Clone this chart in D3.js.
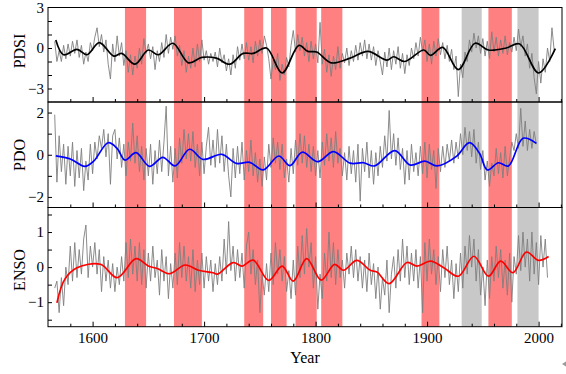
<!DOCTYPE html>
<html><head><meta charset="utf-8">
<script src="https://cdn.jsdelivr.net/npm/d3@7"></script>
<style>body{margin:0;background:#fff}svg{display:block}text{font-family:"Liberation Serif","Times New Roman",serif;fill:#000}</style>
</head><body><svg id="c" width="566" height="374"></svg>
<script>
// ---- data ----
const panelNames = ["PDSI", "PDO", "ENSO"];
const bandStart = [1629, 1673, 1736, 1760, 1782, 1805, 1895, 1931, 1955, 1981];
const bandEnd   = [1648, 1698, 1753, 1774, 1801, 1824, 1911, 1949, 1976, 2000];
const bandKind  = ["r","r","r","r","r","r","r","g","r","g"];
const xTickLabels = [1600, 1700, 1800, 1900, 2000];
const pdsiTicks = [3, 0, -3], pdoTicks = [2, 0, -2], ensoTicks = [1, 0, -1];

const pdsiStart = 1566, pdoStart = 1566, ensoStart = 1566, rawStep = 2;
const pdsiRaw = [0.5,-1.0,-0.2,-1.0,0.2,-0.8,0.3,-0.6,0.5,-0.4,0.6,-0.7,0.2,-1.2,-0.3,-1.0,0.4,-0.2,0.8,1.5,
0.1,1.0,-0.3,0.6,-1.2,-2.3,0.3,-1.0,0.9,-0.6,0.4,-1.3,-0.2,-1.8,-0.5,-2.0,-0.6,-1.5,0.0,-1.2,
0.7,-0.4,0.3,-0.8,0.1,-1.6,-0.2,-1.0,0.4,-0.7,1.0,-0.4,0.8,-0.1,0.9,-0.6,0.2,-1.3,-0.2,-1.8,
-0.6,-1.5,0.0,-1.4,0.3,-1.0,0.6,-0.9,-0.2,-1.2,-0.4,-1.0,-0.3,-1.4,0.0,-1.1,-0.5,-1.7,-0.8,-2.0,
-0.5,-1.5,0.1,-0.9,0.3,-0.8,0.4,-0.9,0.1,-1.1,0.5,-0.6,0.6,-0.4,0.9,0.2,-0.8,-2.3,-0.9,-1.6,
-0.4,-2.4,-1.2,-2.0,-0.7,-1.4,0.2,1.3,-0.3,1.0,-0.2,0.8,-0.6,0.4,-1.0,0.5,-0.8,0.3,-1.1,1.9,
-1.2,-0.1,-1.8,-0.5,-2.1,-0.6,-1.6,0.1,-1.5,-0.4,-1.1,0.0,-1.3,-0.2,-1.0,0.2,-0.9,0.4,-0.6,0.6,
-0.8,0.3,-0.9,0.1,-1.3,-0.2,-1.0,-2.0,-0.3,-1.4,0.0,-1.6,-0.2,-1.2,0.1,-1.5,-0.4,-1.9,-0.5,-1.3,
0.0,-0.8,0.4,-0.6,0.8,-0.3,0.6,-1.0,0.3,-1.2,0.5,-0.6,0.7,-0.5,0.4,-0.8,0.2,-1.0,-0.1,-1.6,
-0.6,-3.6,-1.2,-2.2,-0.3,-1.0,0.6,-0.3,1.1,0.0,0.9,-0.4,0.7,-0.6,0.5,-0.8,1.2,-0.3,0.8,-0.6,
0.6,-0.4,0.9,-0.5,0.4,-0.3,0.8,-0.2,1.4,0.1,0.9,-0.6,0.3,-1.5,-0.4,-2.2,-3.4,-1.0,-2.6,-0.8,
-1.8,0.0,-1.0,1.5,-0.2];
const pdsiSmoothYears = [1567,1574,1586,1595,1606,1619,1626,1638,1650,1659,1672,1686,1698,1711,1723,1735,1744,1756,1770,1785,1793,1801,1814,1831,1847,1864,1870,1880,1897,1903,1914,1928,1943,1955,1971,1983,2000,2015];
const pdsiSmooth = [0.6,-0.5,-0.1,-0.5,0.4,-0.6,-0.4,-1.2,-0.15,-0.5,0.35,-1.1,-0.7,-0.75,-1.2,-0.4,-0.4,0.0,-1.85,0.2,-0.25,-0.3,-1.1,-0.75,-0.25,-0.9,-0.65,-1.0,-0.15,-0.55,0.05,-1.6,0.35,-0.15,0.0,0.3,-1.85,-0.05];

const pdoRaw = [1.9,-1.3,0.9,-0.8,0.5,-1.4,0.4,-1.0,0.6,-1.5,0.2,-1.1,0.3,-1.7,-0.3,-1.2,0.5,-0.9,0.6,-0.2,
0.9,0.3,1.2,-0.1,1.0,-1.4,0.9,1.2,-0.2,0.8,-0.6,0.5,-1.0,0.6,-0.3,1.5,-0.4,0.9,-0.8,0.4,
-1.2,0.3,-1.0,0.5,-1.4,0.2,-0.9,0.7,-0.8,0.6,2.3,-1.0,0.4,-1.3,0.3,-1.1,0.8,-0.4,1.2,-0.2,
1.0,-0.3,1.1,-0.6,0.5,-1.0,0.6,-0.9,0.4,1.3,-0.5,0.7,-0.6,1.2,-0.4,0.9,-0.8,0.5,-1.0,-2.0,
0.3,-1.1,0.4,-0.9,0.6,-1.2,0.2,-0.8,0.7,-1.0,0.1,-1.3,-0.2,-1.5,-0.1,-1.2,0.5,-0.6,0.8,-0.4,
0.6,-0.7,0.5,-1.1,-0.2,-1.3,0.3,-0.9,0.7,-0.5,1.0,-0.4,0.9,-0.6,0.5,-0.8,0.4,-1.0,0.2,-1.1,
0.6,-0.5,1.0,-0.3,0.8,-0.6,1.1,-0.4,0.3,-1.0,0.1,-1.2,0.4,-0.9,0.2,-1.3,0.5,-2.2,0.3,-0.8,
0.6,-1.1,0.2,-1.4,0.1,-1.0,0.4,-0.6,0.9,-0.3,2.1,-0.2,1.0,-0.5,0.8,-0.7,0.3,-1.4,0.2,-1.2,
0.5,-0.8,0.1,-1.0,0.4,-0.9,0.6,-1.1,0.5,-0.7,0.2,-1.6,0.3,-0.8,0.4,-0.6,0.5,-0.3,0.7,-0.4,
0.6,-0.2,1.0,0.0,1.3,0.2,1.1,-0.1,1.2,-0.4,0.6,-0.7,0.2,-1.2,-0.3,-1.5,-0.4,-1.0,0.3,-0.9,
0.1,-1.1,0.4,-1.0,-0.2,0.6,0.2,1.0,0.3,2.2,0.4,1.6,0.2,1.2,0.3,1.1,0.5];
const pdoSmoothYears = [1567,1580,1593,1601,1614,1622,1629,1639,1651,1663,1674,1687,1699,1716,1729,1741,1753,1767,1777,1788,1802,1816,1831,1843,1853,1871,1885,1898,1909,1926,1938,1947,1954,1964,1973,1986,1998];
const pdoSmooth = [-0.05,-0.2,-0.55,-0.3,0.57,0.3,-0.25,0.1,-0.55,-0.12,-0.53,0.26,-0.22,0.02,-0.41,-0.36,-0.72,-0.06,-0.52,0.12,-0.33,0.15,-0.4,-0.38,-0.53,0.2,-0.49,-0.3,-0.53,-0.09,0.57,0.07,-0.72,-0.38,-0.53,0.78,0.54];

const ensoRaw = [-0.6,-0.4,-1.3,-0.3,-1.1,0.0,-0.5,0.6,-0.4,0.7,-0.3,0.5,-0.2,0.8,1.2,-0.3,0.6,0.0,0.7,-0.2,
0.5,-0.7,0.3,-0.4,0.2,-0.6,0.1,-0.7,0.0,-0.5,0.3,-0.4,0.7,-0.3,0.8,-0.2,0.6,-0.4,0.7,-0.5,
0.5,-0.6,0.4,-0.4,0.6,-0.3,0.2,-0.8,0.5,-0.4,0.3,-0.9,0.1,-0.6,0.4,-0.5,0.7,-0.3,0.6,-0.4,
0.3,-0.6,0.5,-0.7,0.2,-0.5,0.4,-0.6,0.3,-0.4,0.2,-0.7,0.1,-0.5,0.3,-0.4,0.8,-0.2,1.3,-0.1,
0.6,-0.4,0.5,-0.3,0.4,-0.6,0.6,1.0,-0.2,0.5,-0.5,0.2,-1.3,-0.2,-0.8,0.1,-0.7,0.4,-0.5,0.7,
-0.2,0.5,-0.4,0.3,-0.7,-0.1,-0.9,0.2,-0.8,0.6,-0.3,0.9,-0.2,1.1,0.0,0.7,-0.6,0.3,-1.2,-0.2,
-0.9,0.4,-0.4,1.0,-0.3,0.7,-0.5,0.5,-0.3,0.2,-0.6,0.4,-0.2,0.6,-0.3,0.5,-0.4,0.3,-0.6,0.2,
-0.7,0.4,-0.5,0.1,-0.9,0.0,-1.2,-0.3,-0.8,0.2,-1.3,-0.2,0.3,-0.6,0.5,-0.4,0.8,-0.3,0.6,-0.5,
0.4,-0.4,0.5,-0.6,0.3,-1.3,0.7,-0.4,0.8,-0.2,0.5,-0.5,0.3,-0.7,0.5,-0.3,0.6,-0.5,0.2,-0.9,
0.1,-0.7,0.4,-0.6,0.6,-0.2,0.9,0.0,0.8,-0.4,0.5,-0.8,0.0,-1.1,0.2,-0.9,0.3,-0.4,0.6,-0.3,
0.5,-0.6,0.2,-0.8,0.4,-1.0,0.3,-0.2,0.9,-0.1,1.0,0.0,0.8,-0.4,1.0,-0.2,0.7,-0.5,0.9,0.0,
0.8,-0.3];
const ensoSmoothYears = [1568,1575,1586,1607,1622,1639,1650,1658,1669,1683,1695,1708,1712,1726,1734,1744,1758,1770,1780,1792,1805,1817,1825,1837,1849,1855,1866,1882,1891,1903,1915,1928,1942,1955,1966,1977,1989,2000,2009];
const ensoSmooth = [-1.02,-0.35,-0.02,0.08,-0.3,0.24,0.03,-0.04,-0.19,0.06,-0.09,-0.16,-0.2,0.13,0.03,0.2,-0.38,0.03,-0.4,0.24,-0.37,0.08,-0.09,0.19,-0.09,-0.14,-0.47,0.13,0.03,0.17,-0.02,-0.26,0.31,-0.26,0.17,-0.16,0.43,0.19,0.3];

// ---- chart ----
const svg = d3.select("#c");
const L = 48, R = 562;
const x = d3.scaleLinear().domain([1560, 2021]).range([L, R]);
const panels = [
  {name: panelNames[0], top: 7.5, bottom: 102, dom: [-4, 3], minor: d3.range(-3, 3, 1), labels: pdsiTicks,
   raw: pdsiRaw, start: pdsiStart, sy: pdsiSmoothYears, sv: pdsiSmooth, color: "#000000", labY: 51},
  {name: panelNames[1], top: 102, bottom: 207.5, dom: [-2.5, 2.5], minor: d3.range(-2, 2.01, 1), labels: pdoTicks,
   raw: pdoRaw, start: pdoStart, sy: pdoSmoothYears, sv: pdoSmooth, color: "#0000ff", labY: 155},
  {name: panelNames[2], top: 207.5, bottom: 326.7, dom: [-1.7, 1.7], minor: d3.range(-1.5, 1.51, 0.5), labels: ensoTicks,
   raw: ensoRaw, start: ensoStart, sy: ensoSmoothYears, sv: ensoSmooth, color: "#ff0000", labY: 270}
];
const TOP = panels[0].top, BOT = panels[2].bottom;

// bands
svg.append("g").selectAll("rect").data(bandStart.map((s, i) => ({s, e: bandEnd[i], k: bandKind[i]})))
  .join("rect")
  .attr("x", d => x(d.s)).attr("width", d => x(d.e) - x(d.s))
  .attr("y", TOP).attr("height", BOT - TOP)
  .attr("fill", d => d.k === "r" ? "#ff8080" : "#c8c8c8");

const minorYears = d3.range(1580, 2021, 20);

panels.forEach(p => {
  const y = d3.scaleLinear().domain(p.dom).range([p.bottom, p.top]);
  const g = svg.append("g");
  const clipId = "clip" + p.name;
  svg.append("clipPath").attr("id", clipId).append("rect")
    .attr("x", L).attr("y", p.top).attr("width", R - L).attr("height", p.bottom - p.top);
  const lines = g.append("g").attr("clip-path", `url(#${clipId})`);
  const rawData = p.raw.map((v, i) => [p.start + i * rawStep, v]);
  lines.append("path").datum(rawData)
    .attr("d", d3.line().x(d => x(d[0])).y(d => y(d[1])))
    .attr("fill", "none").attr("stroke", "#7f7f7f").attr("stroke-width", 0.9);
  const smData = p.sy.map((yr, i) => [yr, p.sv[i]]);
  lines.append("path").datum(smData)
    .attr("d", d3.line().curve(d3.curveCatmullRom.alpha(0.5)).x(d => x(d[0])).y(d => y(d[1])))
    .attr("fill", "none").attr("stroke", p.color).attr("stroke-width", 1.7);

  // y axis: minor ticks
  const ya = g.append("g").attr("transform", `translate(${L},0)`)
    .call(d3.axisLeft(y).tickValues(p.minor).tickSize(-4).tickFormat(""));
  ya.select(".domain").remove();
  const yl = g.append("g").attr("transform", `translate(${L},0)`)
    .call(d3.axisLeft(y).tickValues(p.labels).tickSize(0).tickPadding(4).tickFormat(d3.format("d")));
  yl.select(".domain").remove();
  yl.selectAll("text").attr("font-size", 15).attr("font-family", "Liberation Serif");

  // x ticks at panel bottom, pointing up
  const xa = g.append("g").attr("transform", `translate(0,${p.bottom})`)
    .call(d3.axisBottom(x).tickValues(minorYears).tickSizeInner(-3).tickSizeOuter(0).tickFormat(""));
  xa.select(".domain").remove();
  xa.selectAll(".tick line").attr("y2", d => d % 100 === 0 ? -5 : -3);

  // frame
  g.append("rect").attr("x", L).attr("y", p.top).attr("width", R - L).attr("height", p.bottom - p.top)
    .attr("fill", "none").attr("stroke", "#000").attr("stroke-width", 1);

  g.append("text").attr("transform", `translate(25,${p.labY}) rotate(-90)`)
    .attr("text-anchor", "middle").attr("font-size", 16).text(p.name);
});

// x labels
const xl = svg.append("g").attr("transform", `translate(0,${BOT})`)
  .call(d3.axisBottom(x).tickValues(xTickLabels).tickSize(0).tickPadding(6).tickFormat(d3.format("d")));
xl.select(".domain").remove();
xl.selectAll("text").attr("font-size", 15).attr("font-family", "Liberation Serif");

svg.append("text").attr("x", 305).attr("y", 363).attr("text-anchor", "middle").attr("font-size", 16).text("Year");

// small corner marker
svg.append("path").attr("d", "M562,364 L566,361.5 L566,366.5 Z").attr("fill", "#999");
</script></body></html>
